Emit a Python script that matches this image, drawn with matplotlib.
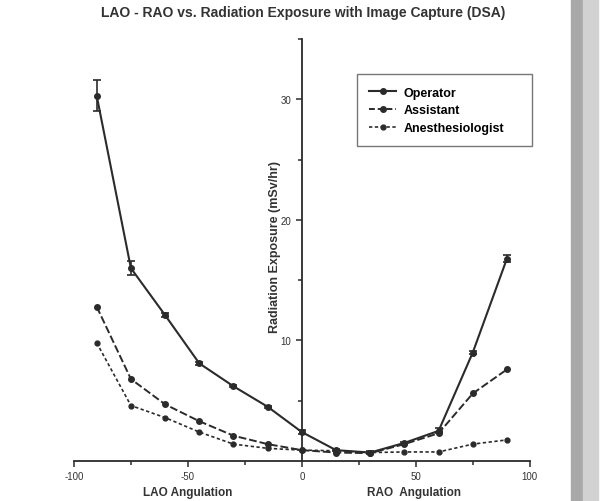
import numpy as np
import matplotlib
matplotlib.use("Agg")
import matplotlib.pyplot as plt
from matplotlib.patches import Rectangle
from matplotlib.lines import Line2D

# ---- data ----
angles = [-90, -75, -60, -45, -30, -15, 0, 15, 30, 45, 60, 75, 90]
operator = [30.3, 16.0, 12.1, 8.1, 6.2, 4.5, 2.4, 0.9, 0.7, 1.5, 2.5, 9.0, 16.8]
operator_err = [1.3, 0.6, 0.15, 0.15, 0.1, 0.1, 0.15, 0.1, 0.1, 0.1, 0.2, 0.15, 0.3]
assistant = [12.8, 6.8, 4.7, 3.3, 2.1, 1.4, 0.9, 0.7, 0.65, 1.4, 2.3, 5.6, 7.6]
anesthesiologist = [9.8, 4.6, 3.6, 2.4, 1.4, 1.05, 0.9, 0.85, 0.7, 0.75, 0.75, 1.4, 1.75]

title = "LAO - RAO vs. Radiation Exposure with Image Capture (DSA)"
ylabel = "Radiation Exposure (mSv/hr)"
xlabel_left = "LAO Angulation"
xlabel_right = "RAO  Angulation"

ink = "#2b2b2b"
font = "Liberation Sans"
plt.rcParams["axes.unicode_minus"] = False

fig = plt.figure(figsize=(6.16, 5.02), dpi=100)

# grey page strips on the right side of the scan
for x0, w, c in [(0.927, 0.019, "#a9a9a9"), (0.946, 0.025, "#d2d2d2")]:
    fig.patches.append(Rectangle((x0, 0), w, 1, transform=fig.transFigure,
                                 color=c, zorder=-10))

ax = fig.add_axes([0.120, 0.0797, 0.740, 0.8403])
ax.set_xlim(-100, 100)
ax.set_ylim(0, 35)

ax.errorbar(angles, operator, yerr=operator_err, color=ink, lw=1.5, marker="o",
            ms=4, capsize=3, capthick=1.2, elinewidth=1.2)
ax.plot(angles, assistant, color=ink, lw=1.4, ls=(0, (4, 1.5)), marker="o", ms=4)
ax.plot(angles, anesthesiologist, color=ink, lw=1.2, ls=(0, (2, 1.5)),
        marker="o", ms=3.5)

# GraphPad-style crossing axes
ax.spines["top"].set_visible(False)
ax.spines["right"].set_visible(False)
ax.spines["left"].set_position(("data", 0))
ax.spines["left"].set_color(ink)
ax.spines["bottom"].set_color(ink)
ax.spines["left"].set_linewidth(1.3)
ax.spines["bottom"].set_linewidth(1.3)

ax.set_xticks([-100, -50, 0, 50, 100])
ax.set_xticks([-75, -25, 25, 75], minor=True)
ax.set_yticks([10, 20, 30])
ax.set_yticks([5, 15, 25, 35], minor=True)
ax.tick_params(axis="both", which="both", direction="out", color=ink,
               width=1.1, labelsize=7, labelcolor="#333333")
ax.tick_params(axis="both", which="major", length=4)
ax.tick_params(axis="both", which="minor", length=3)
for lab in ax.get_xticklabels() + ax.get_yticklabels():
    lab.set_family(font)

ax.text(-50, -2.6, xlabel_left, ha="center", va="center", fontsize=8.5,
        fontweight="bold", family=font, color="#333333")
ax.text(49, -2.6, xlabel_right, ha="center", va="center", fontsize=8.5,
        fontweight="bold", family=font, color="#333333")
fig.text(0.447, 0.508, ylabel, rotation=90, ha="center", va="center",
         fontsize=9, fontweight="bold", family=font, color="#333333")

fig.text(0.492, 0.975, title, ha="center", va="center", fontsize=10,
         fontweight="bold", family=font, color="#333333")

handles = [
    Line2D([], [], color=ink, lw=1.5, marker="o", ms=4),
    Line2D([], [], color=ink, lw=1.4, ls=(0, (3, 1.5)), marker="o", ms=4),
    Line2D([], [], color=ink, lw=1.2, ls=(0, (2, 1.5)), marker="o", ms=3.5),
]
leg = ax.legend(handles, ["Operator", "Assistant", "Anesthesiologist"],
                loc="upper left", bbox_to_anchor=(0.621, 0.917, 0.384, 0),
                mode="expand",
                prop={"family": font, "weight": "bold", "size": 9},
                frameon=True, fancybox=False, edgecolor="#555555",
                handlelength=2.1, handletextpad=0.6, borderpad=1.0,
                borderaxespad=0, labelspacing=0.45)
leg.get_frame().set_linewidth(1.0)

fig.savefig("out.png", dpi=100, facecolor="white")
